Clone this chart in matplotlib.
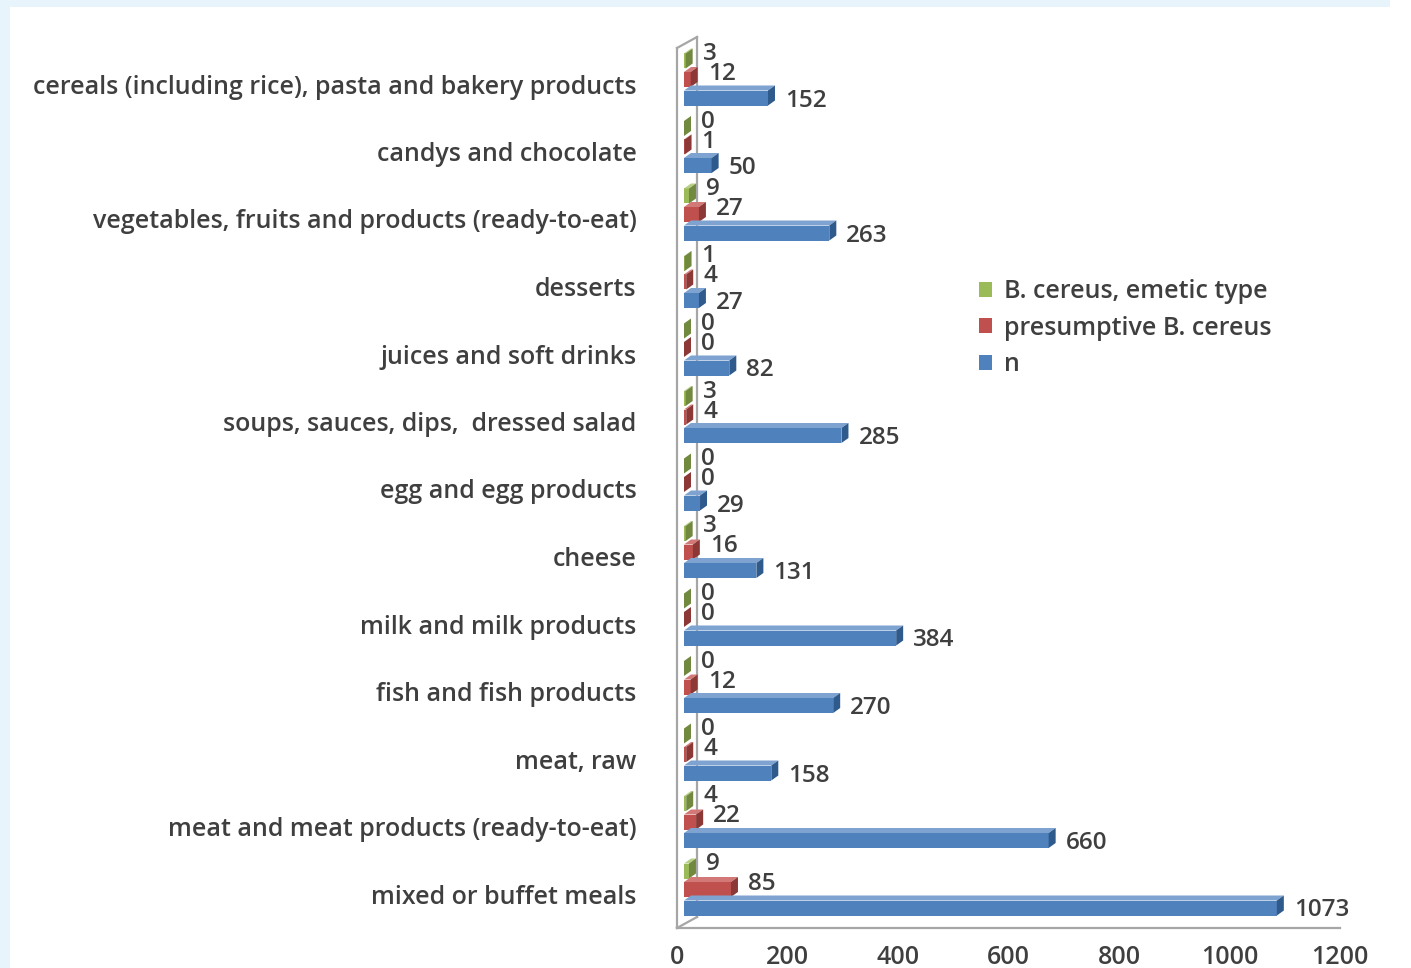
import numpy as np
import matplotlib.pyplot as plt
from matplotlib.patches import Polygon, Rectangle, Patch

# categories listed bottom -> top (as drawn)
categories = [
    "mixed or buffet meals",
    "meat and meat products (ready-to-eat)",
    "meat, raw",
    "fish and fish products",
    "milk and milk products",
    "cheese",
    "egg and egg products",
    "soups, sauces, dips,  dressed salad",
    "juices and soft drinks",
    "desserts",
    "vegetables, fruits and products (ready-to-eat)",
    "candys and chocolate",
    "cereals (including rice), pasta and bakery products",
]
n_samples = [1073, 660, 158, 270, 384, 131, 29, 285, 82, 27, 263, 50, 152]
presumptive = [85, 22, 4, 12, 0, 16, 0, 4, 0, 4, 27, 1, 12]
emetic = [9, 4, 0, 0, 0, 3, 0, 3, 0, 1, 9, 0, 3]
xticks = [0, 200, 400, 600, 800, 1000, 1200]

W, H = 1411, 968
txt = '#3F3F3F'
plt.rcParams['font.family'] = ['Open Sans', 'DejaVu Sans']
plt.rcParams['font.weight'] = 600
fs = 18

fig = plt.figure(figsize=(W / 100, H / 100), dpi=100)
fig.patch.set_facecolor('#E8F4FC')
fig.patches.append(Rectangle((10 / W, 0), 1, 1 - 7 / H, transform=fig.transFigure,
                             facecolor='white', edgecolor='none', zorder=-10))
fig.patches.append(Rectangle((1390 / W, 0), 1, 1, transform=fig.transFigure,
                             facecolor='white', edgecolor='none', zorder=-10))

x0p, x1p, y_floor, y_top = 677, 1340, 928, 42
ax = fig.add_axes([x0p / W, 1 - y_floor / H, (x1p - x0p) / W, (y_floor - y_top) / H])
ax.set_facecolor('none')
ax.set_xlim(0, 1200)
ppy = 67.5  # pixels per category
ax.set_ylim(-(y_floor - 894) / ppy, 12 + (84 - y_top) / ppy)
for s in ax.spines.values():
    s.set_visible(False)

pxx = (x1p - x0p) / 1200.0  # pixels per data unit x
def dx(p):
    return p / pxx
def dy(p):
    return p / ppy

# back wall and floor (3D frame)
wdx, wdy = dx(20), dy(11)
ylo, yhi = ax.get_ylim()
wall = '#A6A6A6'
ax.plot([0, 0], [ylo, yhi - dy(6)], color=wall, lw=1.6, clip_on=False, zorder=1)
ax.plot([wdx, wdx], [ylo + wdy, yhi - dy(6) + wdy], color=wall, lw=1.6, clip_on=False, zorder=1)
ax.plot([0, wdx], [yhi - dy(6), yhi - dy(6) + wdy], color=wall, lw=1.6, clip_on=False, zorder=1)
ax.plot([0, wdx], [ylo, ylo + wdy], color=wall, lw=1.6, clip_on=False, zorder=1)
ax.plot([0, 1200], [ylo, ylo], color=wall, lw=1.6, clip_on=False, zorder=1)

# (values, face, side, top, y offset px, label offset px, legend label)
series = [
    (emetic, '#9BBB59', '#71893F', '#B5CF83', 25.5, 4.5, "B. cereus, emetic type"),
    (presumptive, '#C0504D', '#8C3836', '#D27977', 7, 3, "presumptive B. cereus"),
    (n_samples, '#4F81BD', '#2F5A8C', '#7FA3D1', -11.5, -5, "n"),
]
bx0 = dx(7)
bh = dy(15)
ddx, ddy = dx(7), dy(5)
for i in range(len(categories)):
    for k, (vals, c, cs, ct, off, loff, lab) in enumerate(series):
        v = vals[i]
        yc = i + dy(off)
        yb, yt = yc - bh / 2 - ddy / 2, yc + bh / 2 - ddy / 2
        z = 10 + (len(categories) - i) * 3 + k
        ax.add_patch(Rectangle((bx0, yb), v, yt - yb, facecolor=c, edgecolor='none', zorder=z))
        ax.add_patch(Polygon([(bx0, yt), (bx0 + v, yt), (bx0 + v + ddx, yt + ddy), (bx0 + ddx, yt + ddy)],
                             closed=True, facecolor=ct, edgecolor='none', zorder=z))
        ax.add_patch(Polygon([(bx0 + v, yb), (bx0 + v, yt), (bx0 + v + ddx, yt + ddy), (bx0 + v + ddx, yb + ddy)],
                             closed=True, facecolor=cs, edgecolor='none', zorder=z))
        ax.text(bx0 + v + ddx + dx(10), yc + dy(loff), str(v), ha='left', va='center',
                fontsize=fs - 0.5, color=txt, zorder=60)

ax.set_xticks(xticks)
ax.set_xticklabels([str(t) for t in xticks], fontsize=fs, color=txt)
ax.tick_params(axis='x', length=0, pad=12)
ax.set_yticks(range(len(categories)))
ax.set_yticklabels(categories, fontsize=fs, color=txt)
ax.tick_params(axis='y', length=0, pad=29)

handles = [Patch(facecolor=s[1], edgecolor='none', label=s[6]) for s in series]
fig.legend(handles=handles, loc='upper left', bbox_to_anchor=(956 / W, 1 - 257 / H),
           frameon=False, fontsize=fs, labelcolor=txt, handlelength=0.55, handleheight=0.55,
           handletextpad=0.45, labelspacing=0.45)

fig.savefig('out.png', dpi=100, facecolor=fig.get_facecolor())
